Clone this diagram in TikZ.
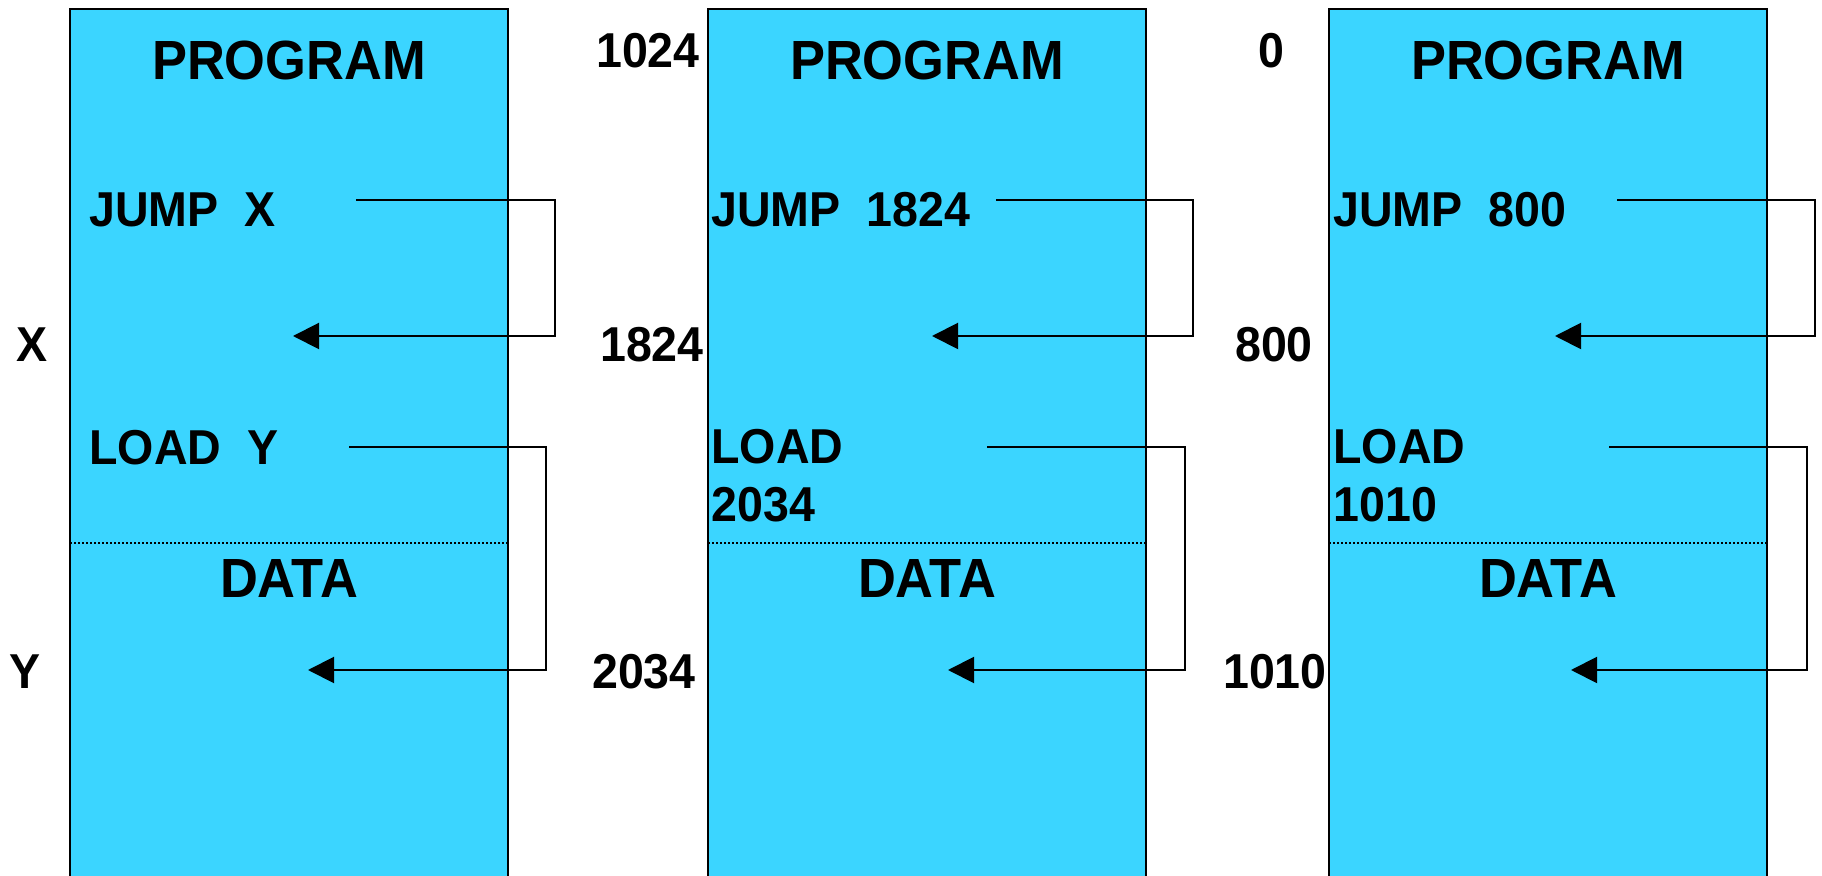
\documentclass[tikz,border=0pt]{standalone}
\usepackage{fontspec}
\setmainfont[FakeStretch=0.95]{Liberation Sans}
\usetikzlibrary{arrows.meta}
\definecolor{memcyan}{RGB}{59,213,255}
\newcommand{\headfont}{\fontsize{27.6}{31}\selectfont\bfseries}
\newcommand{\labfont}{\fontsize{24.5}{29}\selectfont\bfseries}
\tikzset{
  membox/.style={draw=black, fill=memcyan, line width=1pt},
  divider/.style={line width=0.9pt, dash pattern=on 1pt off 1pt},
  heading/.style={font=\headfont, inner sep=0pt, anchor=base},
  instr/.style={font=\labfont, inner sep=0pt, anchor=base west, align=left},
  addr/.style={font=\labfont, inner sep=0pt, anchor=base},
  link/.style={line width=1pt, -{Triangle[length=13pt,width=13pt]}}
}

\begin{document}
\begin{tikzpicture}[x=0.5pt, y=-0.5pt]
  \useasboundingbox (0,0) rectangle (1822,876);

  % three memory images
  \foreach \lx/\i in {70/a, 708/b, 1329/c} {
    \draw[membox] (\lx,9) rectangle ++(438,900);
    \draw[divider] (\lx,543) -- ++(438,0);
    \node[heading] (prog\i) at (\lx+219,80) {PROGRAM};
    \node[heading] (data\i) at (\lx+219,598) {DATA};
  }

  % symbolic addresses
  \node[addr] (xa) at (32,362) {X};
  \node[addr] (ya) at (25,689) {Y};
  \node[instr] (jmpa) at (89,227) {JUMP~~X};
  \node[instr] (lda) at (89,465) {LOAD~~Y};
  \coordinate (jmpa-out) at (356,200);
  \coordinate (jmpa-to) at (293,336);
  \coordinate (lda-out) at (349,447);
  \coordinate (lda-to) at (308,670);
  \draw[link] (jmpa-out) -- ++(199,0) |- (jmpa-to);
  \draw[link] (lda-out) -- ++(197,0) |- (lda-to);

  % loaded at 1024
  \node[addr] (orgb) at (648,68) {1024};
  \node[addr] (xb) at (652,362) {1824};
  \node[addr] (yb) at (644,689) {2034};
  \node[instr] (jmpb) at (711,227) {JUMP~~1824};
  \node[instr] (ldb) at (711,522) {LOAD\\2034};
  \coordinate (jmpb-out) at (996,200);
  \coordinate (jmpb-to) at (932,336);
  \coordinate (ldb-out) at (987,447);
  \coordinate (ldb-to) at (948,670);
  \draw[link] (jmpb-out) -- ++(197,0) |- (jmpb-to);
  \draw[link] (ldb-out) -- ++(198,0) |- (ldb-to);

  % loaded at 0
  \node[addr] (orgc) at (1271,68) {0};
  \node[addr] (xc) at (1274,362) {800};
  \node[addr] (yc) at (1275,689) {1010};
  \node[instr] (jmpc) at (1333,227) {JUMP~~800};
  \node[instr] (ldc) at (1333,522) {LOAD\\1010};
  \coordinate (jmpc-out) at (1617,200);
  \coordinate (jmpc-to) at (1555,336);
  \coordinate (ldc-out) at (1609,447);
  \coordinate (ldc-to) at (1571,670);
  \draw[link] (jmpc-out) -- ++(198,0) |- (jmpc-to);
  \draw[link] (ldc-out) -- ++(198,0) |- (ldc-to);
\end{tikzpicture}
\end{document}
